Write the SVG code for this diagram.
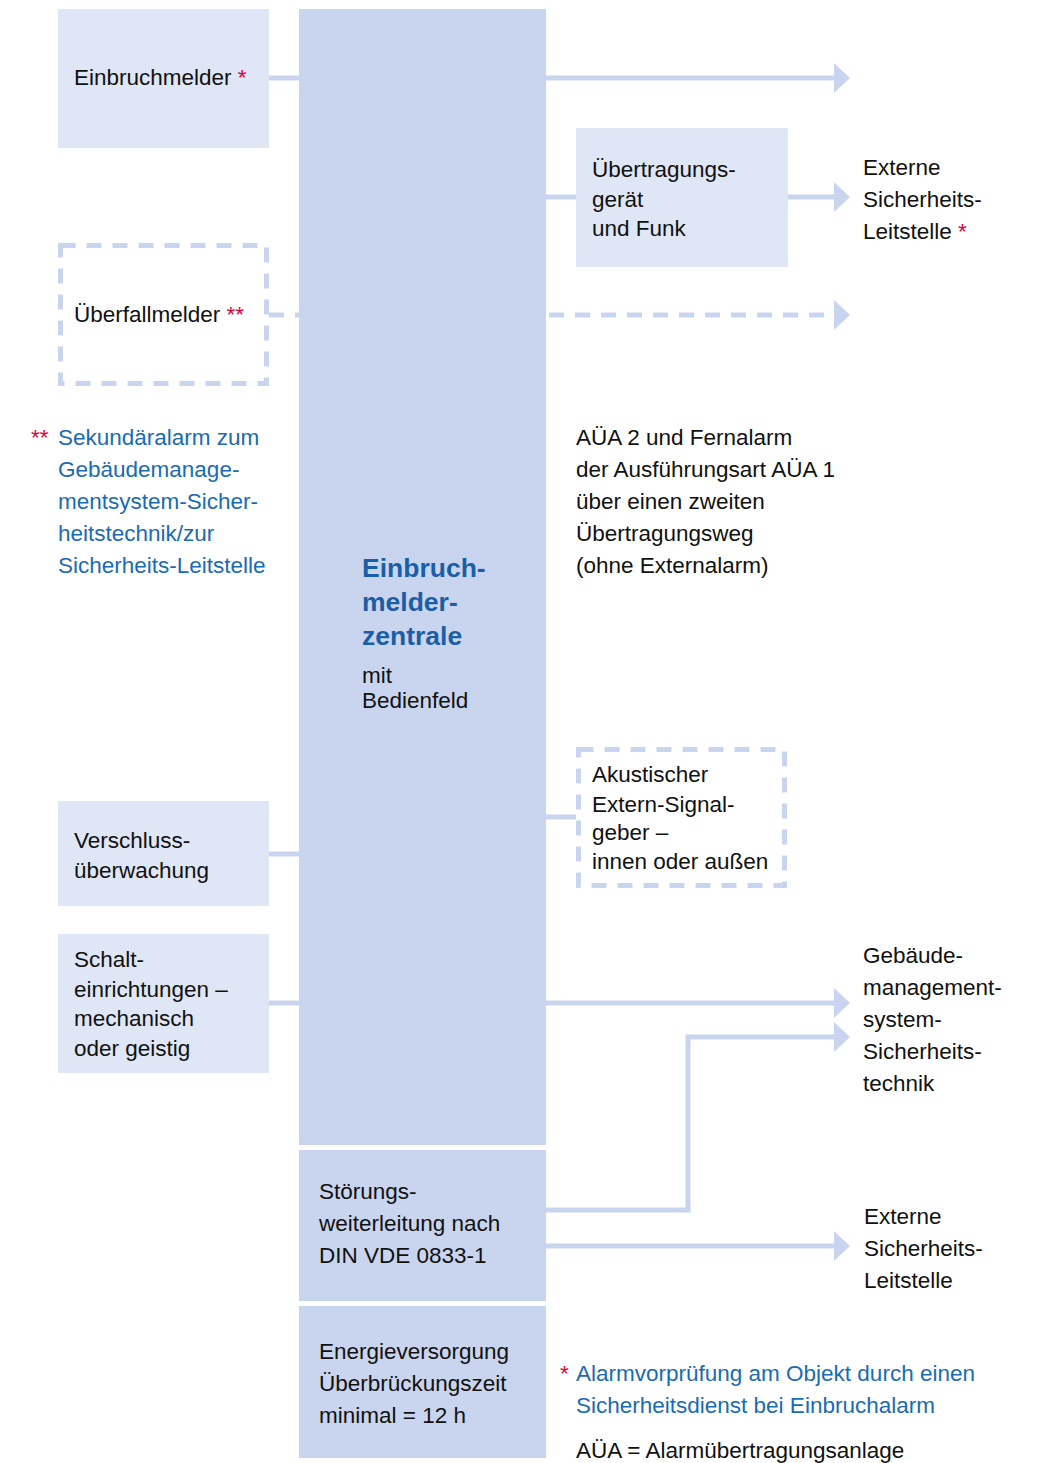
<svg xmlns="http://www.w3.org/2000/svg" width="1040" height="1463" viewBox="0 0 1040 1463">
  <defs>
    <style>
      text { font-family: "Liberation Sans", Arial, sans-serif; font-size: 22.5px; fill: #111111; }
      .box { fill: #dfe6f6; }
      .core { fill: #c9d5ee; }
      .dbox { fill: none; stroke: #c9d5ee; stroke-width: 5; stroke-dasharray: 15 11; }
      .ln { fill: none; stroke: #c9d5ee; stroke-width: 5; }
      .dl { fill: none; stroke: #c9d5ee; stroke-width: 5; stroke-dasharray: 15 11; }
      .head { fill: #c9d5ee; }
      .blue { fill: #1a6bb5; }
      .title { fill: #1b5ea8; font-weight: bold; font-size: 26.5px; }
      .red { fill: #e2003d; }
    </style>
  </defs>

  <rect width="1040" height="1463" fill="#ffffff"/>

  <!-- connectors -->
  <g id="connectors">
    <line class="ln" x1="269" y1="78" x2="299" y2="78"/>
    <line class="dl" x1="269" y1="315" x2="299" y2="315"/>
    <line class="ln" x1="269" y1="854" x2="299" y2="854"/>
    <line class="ln" x1="269" y1="1003" x2="299" y2="1003"/>

    <line class="ln" x1="546" y1="78" x2="835" y2="78"/>
    <polygon class="head" points="834,63 850,78 834,93"/>

    <line class="ln" x1="546" y1="197" x2="576" y2="197"/>
    <line class="ln" x1="788" y1="197" x2="835" y2="197"/>
    <polygon class="head" points="834,182 850,197 834,212"/>

    <line class="dl" x1="549" y1="315" x2="834" y2="315"/>
    <polygon class="head" points="834,300 850,315 834,330"/>

    <line class="ln" x1="546" y1="817" x2="576" y2="817"/>

    <line class="ln" x1="546" y1="1003" x2="835" y2="1003"/>
    <polygon class="head" points="834,988 850,1003 834,1018"/>

    <polyline class="ln" points="546,1210 688,1210 688,1037 835,1037"/>
    <polygon class="head" points="834,1022 850,1037 834,1052"/>

    <line class="ln" x1="546" y1="1246" x2="835" y2="1246"/>
    <polygon class="head" points="834,1231 850,1246 834,1261"/>
  </g>

  <!-- central unit -->
  <g id="zentrale">
    <rect class="core" x="299" y="9" width="247" height="1136"/>
    <text class="title" x="362" y="577">Einbruch-</text>
    <text class="title" x="362" y="611">melder-</text>
    <text class="title" x="362" y="645">zentrale</text>
    <text x="362" y="683">mit</text>
    <text x="362" y="708">Bedienfeld</text>
  </g>

  <g id="stoerung">
    <rect class="core" x="299" y="1150" width="247" height="151"/>
    <text x="319" y="1199">Störungs-</text>
    <text x="319" y="1231">weiterleitung nach</text>
    <text x="319" y="1263">DIN VDE 0833-1</text>
  </g>

  <g id="energie">
    <rect class="core" x="299" y="1306" width="247" height="152"/>
    <text x="319" y="1359">Energieversorgung</text>
    <text x="319" y="1391">Überbrückungszeit</text>
    <text x="319" y="1423">minimal = 12 h</text>
  </g>

  <!-- inputs -->
  <g id="einbruchmelder">
    <rect class="box" x="58" y="9" width="211" height="139"/>
    <text x="74" y="85">Einbruchmelder <tspan class="red">*</tspan></text>
  </g>

  <g id="ueberfallmelder">
    <rect class="dbox" x="60.5" y="245.5" width="206" height="138"/>
    <text x="74" y="322">Überfallmelder <tspan class="red">**</tspan></text>
  </g>

  <g id="verschluss">
    <rect class="box" x="58" y="801" width="211" height="105"/>
    <text x="74" y="848">Verschluss-</text>
    <text x="74" y="878">überwachung</text>
  </g>

  <g id="schalt">
    <rect class="box" x="58" y="934" width="211" height="139"/>
    <text x="74" y="967">Schalt-</text>
    <text x="74" y="997">einrichtungen –</text>
    <text x="74" y="1026">mechanisch</text>
    <text x="74" y="1056">oder geistig</text>
  </g>

  <g id="sekundaer-note">
    <text class="red" x="31" y="445">**</text>
    <text class="blue" x="58" y="445">Sekundäralarm zum</text>
    <text class="blue" x="58" y="477">Gebäudemanage-</text>
    <text class="blue" x="58" y="509">mentsystem-Sicher-</text>
    <text class="blue" x="58" y="541">heitstechnik/zur</text>
    <text class="blue" x="58" y="573">Sicherheits-Leitstelle</text>
  </g>

  <!-- outputs -->
  <g id="uebertragung">
    <rect class="box" x="576" y="128" width="212" height="139"/>
    <text x="592" y="177">Übertragungs-</text>
    <text x="592" y="207">gerät</text>
    <text x="592" y="236">und Funk</text>
  </g>

  <g id="leitstelle-oben">
    <text x="863" y="175">Externe</text>
    <text x="863" y="207">Sicherheits-</text>
    <text x="863" y="239">Leitstelle <tspan class="red">*</tspan></text>
  </g>

  <g id="aua-note">
    <text x="576" y="445">AÜA 2 und Fernalarm</text>
    <text x="576" y="477">der Ausführungsart AÜA 1</text>
    <text x="576" y="509">über einen zweiten</text>
    <text x="576" y="541">Übertragungsweg</text>
    <text x="576" y="573">(ohne Externalarm)</text>
  </g>

  <g id="signalgeber">
    <rect class="dbox" x="578.5" y="749.5" width="206" height="136"/>
    <text x="592" y="782">Akustischer</text>
    <text x="592" y="812">Extern-Signal-</text>
    <text x="592" y="840">geber –</text>
    <text x="592" y="869">innen oder außen</text>
  </g>

  <g id="gebaeudemanagement">
    <text x="863" y="963">Gebäude-</text>
    <text x="863" y="995">management-</text>
    <text x="863" y="1027">system-</text>
    <text x="863" y="1059">Sicherheits-</text>
    <text x="863" y="1091">technik</text>
  </g>

  <g id="leitstelle-unten">
    <text x="864" y="1224">Externe</text>
    <text x="864" y="1256">Sicherheits-</text>
    <text x="864" y="1288">Leitstelle</text>
  </g>

  <g id="legende">
    <text class="red" x="560" y="1381">*</text>
    <text class="blue" x="576" y="1381">Alarmvorprüfung am Objekt durch einen</text>
    <text class="blue" x="576" y="1413">Sicherheitsdienst bei Einbruchalarm</text>
    <text x="576" y="1458">AÜA = Alarmübertragungsanlage</text>
  </g>
</svg>
